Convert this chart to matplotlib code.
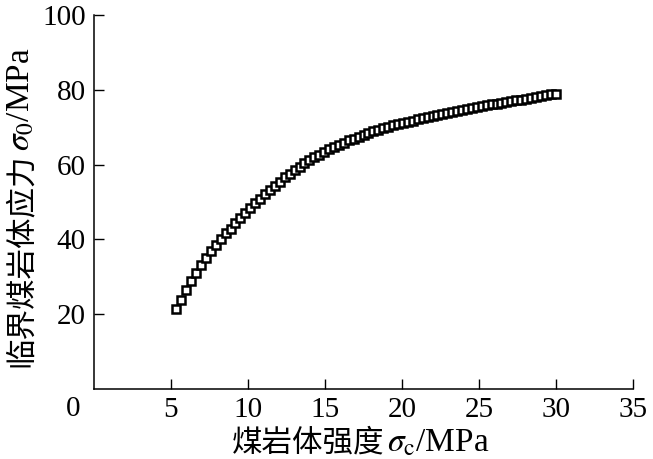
import matplotlib
matplotlib.use("Agg")
import matplotlib.pyplot as plt
import matplotlib.transforms as mtransforms

plt.rcParams['font.family'] = ['Liberation Serif', 'Noto Sans CJK SC']
plt.rcParams['mathtext.fontset'] = 'stix'

# coal-rock strength sigma_c (MPa)
strength = [5.35, 5.67, 5.99, 6.31, 6.63, 6.95, 7.27, 7.59, 7.91, 8.23,
            8.55, 8.87, 9.19, 9.51, 9.83, 10.15, 10.47, 10.79, 11.11, 11.43,
            11.75, 12.07, 12.39, 12.71, 13.03, 13.35, 13.67, 13.99, 14.31, 14.63,
            14.95, 15.27, 15.59, 15.91, 16.23, 16.55, 16.87, 17.19, 17.51, 17.83,
            18.15, 18.47, 18.79, 19.11, 19.43, 19.75, 20.07, 20.39, 20.71, 21.03,
            21.35, 21.67, 21.99, 22.31, 22.63, 22.95, 23.27, 23.59, 23.91, 24.23,
            24.55, 24.87, 25.19, 25.51, 25.83, 26.15, 26.47, 26.79, 27.11, 27.43,
            27.75, 28.07, 28.39, 28.71, 29.03, 29.35, 29.67, 29.99]

# critical stress sigma_0 (MPa)
critical = [21.3, 23.8, 26.4, 28.8, 31.0, 33.1, 35.1, 36.9, 38.6, 40.2,
            41.6, 42.9, 44.3, 45.7, 47.1, 48.4, 49.7, 50.9, 52.1, 53.3,
            54.4, 55.5, 56.6, 57.6, 58.6, 59.5, 60.4, 61.2, 62.0, 62.7,
            63.4, 64.1, 64.7, 65.3, 65.9, 66.5, 67.0, 67.5, 68.0, 68.5,
            68.9, 69.3, 69.7, 70.1, 70.5, 70.8, 71.2, 71.5, 71.8, 72.1,
            72.4, 72.7, 73.0, 73.3, 73.6, 73.9, 74.1, 74.4, 74.6, 74.9,
            75.1, 75.3, 75.7, 75.9, 76.1, 76.3, 76.6, 76.8, 77.0, 77.2,
            77.4, 77.7, 77.9, 78.1, 78.3, 78.6, 78.8, 79.0]

xticks = [5, 10, 15, 20, 25, 30, 35]
yticks = [20, 40, 60, 80, 100]

W, H = 653, 459
fig = plt.figure(figsize=(W / 100, H / 100), dpi=100)
ax = fig.add_axes([0.144, 0.1525, 0.825, 0.8145])

ax.plot(strength, critical, linestyle='none', marker='s', markersize=5.8,
        markerfacecolor='white', markeredgecolor='black', markeredgewidth=1.8)

ax.set_xlim(0, 35)
ax.set_ylim(0, 100)
ax.set_xticks(xticks)
ax.set_yticks(yticks)
ax.tick_params(direction='in', length=7, width=1, labelsize=21, pad=6)
for s in ['top', 'right']:
    ax.spines[s].set_visible(False)
for s in ['left', 'bottom']:
    ax.spines[s].set_linewidth(1.1)

# shared origin label
trans = mtransforms.blended_transform_factory(ax.transAxes, ax.transAxes)
ax.text(-0.038, -0.02, '0', transform=trans, ha='center', va='top', fontsize=21)

# axis titles: chinese part + math part glued together
r = fig.canvas.get_renderer()
xl1 = fig.text(232 / W, 8 / H, '煤岩体强度', fontsize=22, ha='left', va='baseline')
bb = xl1.get_window_extent(r)
fig.text(bb.x1 / W + 0.004, 8 / H, '$\\sigma_{\\rm c}$/MPa', fontsize=24,
         ha='left', va='baseline')

yl1 = fig.text(30 / W, 92 / H, '临界煤岩体应力', fontsize=22, rotation=90,
               rotation_mode='anchor', ha='left', va='baseline')
bb = yl1.get_window_extent(r)
fig.text(30 / W, bb.y1 / H + 0.006, '$\\sigma_0$/MPa', fontsize=24, rotation=90,
         rotation_mode='anchor', ha='left', va='baseline')

fig.savefig('out.png', dpi=100)
